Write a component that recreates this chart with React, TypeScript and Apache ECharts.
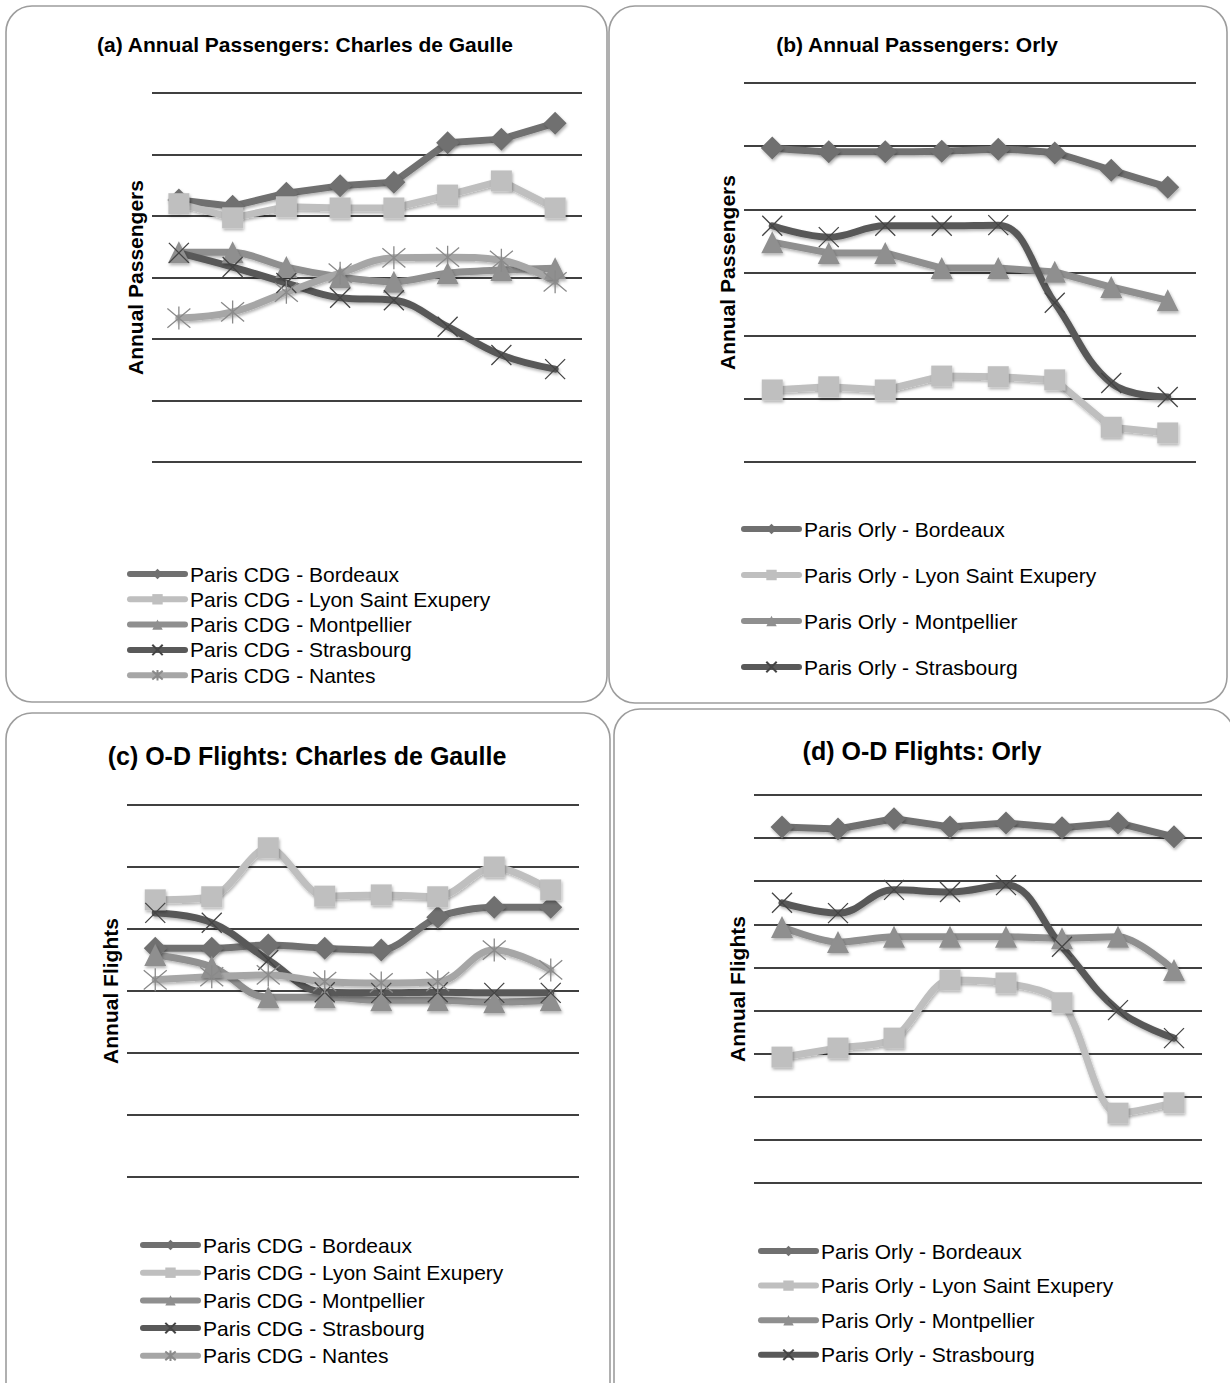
import React, { useEffect, useRef } from "react";
import * as echarts from "echarts";

const FONT = '"Liberation Sans", Arial, Helvetica, sans-serif';

// x categories (unlabelled in the original)
const categories = ["1", "2", "3", "4", "5", "6", "7", "8"];

// (a) Annual passengers: Charles de Gaulle
const cdgPaxBordeaux = [4.26, 4.16, 4.37, 4.49, 4.55, 5.19, 5.25, 5.51];
const cdgPaxLyon = [4.2, 3.97, 4.15, 4.13, 4.13, 4.34, 4.57, 4.13];
const cdgPaxMontpellier = [3.41, 3.41, 3.17, 3.01, 2.93, 3.07, 3.12, 3.15];
const cdgPaxStrasbourg = [3.4, 3.17, 2.91, 2.67, 2.63, 2.2, 1.74, 1.51];
const cdgPaxNantes = [2.34, 2.44, 2.76, 3.07, 3.32, 3.33, 3.28, 2.93];

// (b) Annual passengers: Orly
const orlyPaxBordeaux = [4.97, 4.91, 4.91, 4.92, 4.95, 4.89, 4.62, 4.35];
const orlyPaxLyon = [1.14, 1.19, 1.14, 1.36, 1.35, 1.3, 0.55, 0.46];
const orlyPaxMontpellier = [3.48, 3.31, 3.31, 3.07, 3.07, 3.01, 2.77, 2.56];
const orlyPaxStrasbourg = [3.74, 3.56, 3.74, 3.74, 3.75, 2.52, 1.25, 1.03];

// (c) O-D flights: Charles de Gaulle
const cdgFltBordeaux = [3.69, 3.69, 3.74, 3.69, 3.66, 4.19, 4.35, 4.35];
const cdgFltLyon = [4.47, 4.52, 5.31, 4.53, 4.55, 4.52, 5.0, 4.63];
const cdgFltMontpellier = [3.58, 3.39, 2.9, 2.9, 2.85, 2.85, 2.82, 2.85];
const cdgFltStrasbourg = [4.26, 4.1, 3.5, 2.98, 2.97, 2.98, 2.97, 2.97];
const cdgFltNantes = [3.18, 3.23, 3.26, 3.15, 3.13, 3.15, 3.66, 3.34];

// (d) O-D flights: Orly
const orlyFltBordeaux = [8.26, 8.21, 8.45, 8.26, 8.35, 8.24, 8.35, 8.03];
const orlyFltLyon = [2.92, 3.13, 3.36, 4.71, 4.64, 4.18, 1.62, 1.86];
const orlyFltMontpellier = [5.94, 5.59, 5.71, 5.71, 5.71, 5.68, 5.71, 4.94];
const orlyFltStrasbourg = [6.5, 6.26, 6.8, 6.75, 6.91, 5.48, 4.01, 3.36];

const CDG = "Paris CDG";
const ORLY = "Paris Orly";
const destBordeaux = "Bordeaux";
const destLyon = "Lyon Saint Exupery";
const destMontpellier = "Montpellier";
const destStrasbourg = "Strasbourg";
const destNantes = "Nantes";

const X_PATH = "path://M0,0L10,10M10,0L0,10";
const STAR_PATH = "path://M0,0L10,10M10,0L0,10M5,-1L5,11";

const styles: Record<string, any> = {
  [destBordeaux]: { color: "#707070", symbol: "diamond", size: 23, stroke: false },
  [destLyon]: { color: "#bfbfbf", symbol: "rect", size: 21, stroke: false },
  [destMontpellier]: { color: "#8f8f8f", symbol: "triangle", size: 22, stroke: false },
  [destStrasbourg]: { color: "#595959", symbol: X_PATH, size: 20, stroke: true, markColor: "#444" },
  [destNantes]: { color: "#a6a6a6", symbol: STAR_PATH, size: 23, stroke: true, markColor: "#8a8a8a" },
};

function makeSeries(prefix: string, dest: string, data: number[], idx: number, smooth: number | boolean) {
  const s = styles[dest];
  return {
    type: "line",
    name: `${prefix} - ${dest}`,
    xAxisIndex: idx,
    yAxisIndex: idx,
    data,
    smooth,
    symbol: s.symbol,
    symbolSize: s.size,
    showSymbol: true,
    lineStyle: {
      color: s.color,
      width: 7,
      cap: "round",
      join: "round",
      shadowColor: "rgba(0,0,0,0.3)",
      shadowBlur: 3,
      shadowOffsetX: 1,
      shadowOffsetY: 2,
    },
    itemStyle: s.stroke
      ? { color: "rgba(0,0,0,0)", borderColor: s.markColor, borderWidth: 1.3 }
      : {
          color: s.color,
          shadowColor: "rgba(0,0,0,0.3)",
          shadowBlur: 3,
          shadowOffsetX: 1,
          shadowOffsetY: 2,
        },
    emphasis: { disabled: true },
    silent: true,
  };
}

const panels = [
  {
    title: "(a) Annual Passengers: Charles de Gaulle",
    titleX: 305, titleY: 44, titleSize: 21,
    yName: "Annual Passengers",
    grid: { left: 152, top: 93, width: 430, height: 369 },
    yMax: 6,
    legend: { left: 127, top: 563, gap: 3.3 },
    series: [
      [CDG, destBordeaux, cdgPaxBordeaux, false],
      [CDG, destLyon, cdgPaxLyon, false],
      [CDG, destMontpellier, cdgPaxMontpellier, 0.3],
      [CDG, destStrasbourg, cdgPaxStrasbourg, 0.4],
      [CDG, destNantes, cdgPaxNantes, 0.4],
    ],
  },
  {
    title: "(b) Annual Passengers: Orly",
    titleX: 917, titleY: 44, titleSize: 21,
    yName: "Annual Passengers",
    grid: { left: 744, top: 83, width: 452, height: 379 },
    yMax: 6,
    legend: { left: 741, top: 518, gap: 24 },
    series: [
      [ORLY, destBordeaux, orlyPaxBordeaux, 0.2],
      [ORLY, destLyon, orlyPaxLyon, false],
      [ORLY, destMontpellier, orlyPaxMontpellier, false],
      [ORLY, destStrasbourg, orlyPaxStrasbourg, 0.4],
    ],
  },
  {
    title: "(c) O-D Flights: Charles de Gaulle",
    titleX: 307, titleY: 756, titleSize: 25,
    yName: "Annual Flights",
    grid: { left: 127, top: 805, width: 452, height: 372 },
    yMax: 6,
    legend: { left: 140, top: 1234, gap: 5.7 },
    series: [
      [CDG, destBordeaux, cdgFltBordeaux, 0.3],
      [CDG, destLyon, cdgFltLyon, 0.3],
      [CDG, destMontpellier, cdgFltMontpellier, 0.4],
      [CDG, destStrasbourg, cdgFltStrasbourg, 0.4],
      [CDG, destNantes, cdgFltNantes, 0.4],
    ],
  },
  {
    title: "(d) O-D Flights: Orly",
    titleX: 922, titleY: 751, titleSize: 25,
    yName: "Annual Flights",
    grid: { left: 754, top: 795, width: 448, height: 388 },
    yMax: 9,
    legend: { left: 758, top: 1240, gap: 12.6 },
    series: [
      [ORLY, destBordeaux, orlyFltBordeaux, false],
      [ORLY, destLyon, orlyFltLyon, 0.3],
      [ORLY, destMontpellier, orlyFltMontpellier, 0.3],
      [ORLY, destStrasbourg, orlyFltStrasbourg, 0.4],
    ],
  },
];

const boxes = [
  { x: 6, y: 6, width: 601, height: 696 },
  { x: 609, y: 6, width: 618, height: 697 },
  { x: 6, y: 713, width: 604, height: 720 },
  { x: 614, y: 709, width: 620, height: 720 },
];

function buildOption() {
  const grid: any[] = [];
  const xAxis: any[] = [];
  const yAxis: any[] = [];
  const series: any[] = [];
  const legend: any[] = [];
  const graphic: any[] = [];

  boxes.forEach((b) => {
    graphic.push({
      type: "rect",
      silent: true,
      z: -10,
      shape: { ...b, r: 26 },
      style: { fill: "none", stroke: "#9d9d9d", lineWidth: 1.6 },
    });
  });

  panels.forEach((p, i) => {
    grid.push({ ...p.grid, containLabel: false });
    xAxis.push({
      type: "category",
      gridIndex: i,
      data: categories,
      boundaryGap: true,
      axisLine: { show: false },
      axisTick: { show: false },
      axisLabel: { show: false },
      splitLine: { show: false },
    });
    yAxis.push({
      type: "value",
      gridIndex: i,
      min: 0,
      max: p.yMax,
      interval: 1,
      name: p.yName,
      nameLocation: "middle",
      nameGap: 6,
      nameTextStyle: { fontFamily: FONT, fontSize: 21, fontWeight: "bold", color: "#000" },
      axisLine: { show: false },
      axisTick: { show: false },
      axisLabel: { show: false },
      splitLine: { show: true, lineStyle: { color: "#000", width: 1.5 } },
    });
    const names: string[] = [];
    p.series.forEach((s: any) => {
      const ser = makeSeries(s[0], s[1], s[2], i, s[3]);
      names.push(ser.name);
      series.push(ser);
    });
    legend.push({
      data: names,
      orient: "vertical",
      left: p.legend.left,
      top: p.legend.top,
      itemWidth: 55,
      itemHeight: 13,
      itemGap: p.legend.gap,
      padding: 0,
      selectedMode: false,
      lineStyle: { width: 6, cap: "round" },
      textStyle: { fontFamily: FONT, fontSize: 21, lineHeight: 22, color: "#000" },
    });
    graphic.push({
      type: "text",
      x: p.titleX,
      y: p.titleY,
      silent: true,
      style: {
        text: p.title,
        font: `bold ${p.titleSize}px ${FONT}`,
        fill: "#000",
        align: "center",
        verticalAlign: "middle",
      },
    });
  });

  return {
    animation: false,
    backgroundColor: "#fff",
    grid,
    xAxis,
    yAxis,
    series,
    legend,
    graphic,
  };
}

export default function App() {
  const ref = useRef<HTMLDivElement>(null);
  useEffect(() => {
    if (!ref.current) return;
    const chart = echarts.init(ref.current, undefined, { renderer: "svg" });
    chart.setOption(buildOption() as any);
    return () => chart.dispose();
  }, []);
  return (
    <div
      ref={ref}
      style={{ position: "absolute", left: 0, top: 0, width: 1230, height: 1383, background: "#fff" }}
    />
  );
}
